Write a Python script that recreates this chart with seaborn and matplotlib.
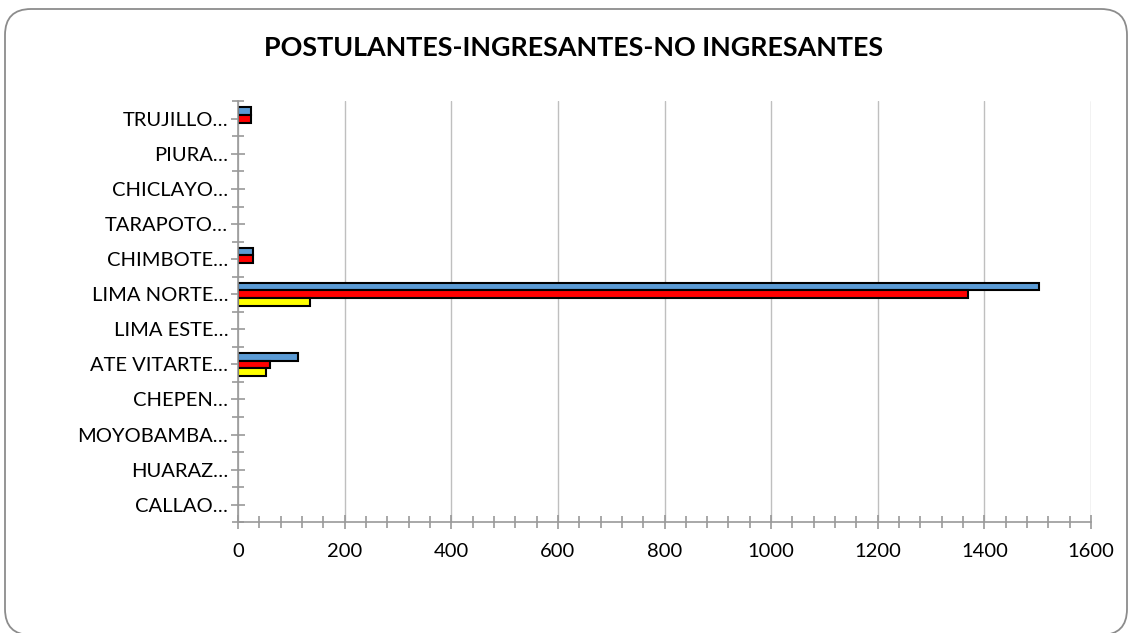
import numpy as np
import pandas as pd
import seaborn as sns
import matplotlib.pyplot as plt
from matplotlib.patches import FancyBboxPatch
from matplotlib.ticker import MultipleLocator

# data
sedes = ['TRUJILLO…', 'PIURA…', 'CHICLAYO…', 'TARAPOTO…', 'CHIMBOTE…', 'LIMA NORTE…',
         'LIMA ESTE…', 'ATE VITARTE…', 'CHEPEN…', 'MOYOBAMBA…', 'HUARAZ…', 'CALLAO…']
postulantes = [24, 0, 0, 0, 28, 1502, 0, 112, 0, 0, 0, 0]
ingresantes = [24, 0, 0, 0, 28, 1370, 0, 60, 0, 0, 0, 0]
no_ingresantes = [0, 0, 0, 0, 0, 135, 0, 52, 0, 0, 0, 0]
series = ['POSTULANTES', 'INGRESANTES', 'NO INGRESANTES']
colores = ['#5B9BD5', '#FF0000', '#FFFF00']

df = pd.DataFrame({
    'sede': sedes * 3,
    'valor': postulantes + ingresantes + no_ingresantes,
    'serie': [s for s in series for _ in sedes],
})

sns.set_style('white')
plt.rcParams['font.family'] = ['Lato', 'DejaVu Sans']
plt.rcParams['text.color'] = 'black'

fig = plt.figure(figsize=(11.33, 6.33), dpi=100)
ax = fig.add_axes([0.210, 0.175, 0.753, 0.665])

sns.barplot(data=df, y='sede', x='valor', hue='serie', order=sedes,
            hue_order=series, palette=colores, orient='h', width=0.65,
            saturation=1, edgecolor='black', linewidth=1.5, legend=False, ax=ax)

# empty bars should not draw an outline
for p in ax.patches:
    if p.get_width() == 0:
        p.set_linewidth(0)

ax.set_xlim(0, 1600)
ax.xaxis.set_major_locator(MultipleLocator(200))
ax.xaxis.set_minor_locator(MultipleLocator(40))
ax.set_yticks(np.arange(len(sedes)))
ax.set_yticks(np.arange(len(sedes) + 1) - 0.5, minor=True)
ax.set_ylim(len(sedes) - 0.5, -0.5)

ax.grid(axis='x', which='major', color='#BFBFBF', linewidth=1)
ax.set_axisbelow(True)
for s in ['top', 'right']:
    ax.spines[s].set_visible(False)
for s in ['left', 'bottom']:
    ax.spines[s].set_color('#999999')
    ax.spines[s].set_linewidth(1.2)

ax.tick_params(axis='both', which='both', direction='inout', color='#999999',
               width=1.2, bottom=True, left=True)
ax.tick_params(axis='both', which='major', length=10, labelsize=14.5, labelcolor='black')
ax.tick_params(axis='both', which='minor', length=8)
ax.tick_params(axis='x', which='major', pad=10)
ax.tick_params(axis='y', which='major', pad=2)
ax.set_xlabel('')
ax.set_ylabel('')

fig.text(0.506, 0.924, 'POSTULANTES-INGRESANTES-NO INGRESANTES',
         ha='center', va='center', fontsize=19.4, fontweight='bold', color='black')

# rounded chart-area border (pixel coordinates)
frame = FancyBboxPatch((5, -2), 1122, 626, boxstyle='round,pad=0,rounding_size=26',
                       transform=None, facecolor='none', edgecolor='#8C8C8C', linewidth=1.3)
fig.patches.append(frame)

fig.savefig('out.png', dpi=100, facecolor='white')
